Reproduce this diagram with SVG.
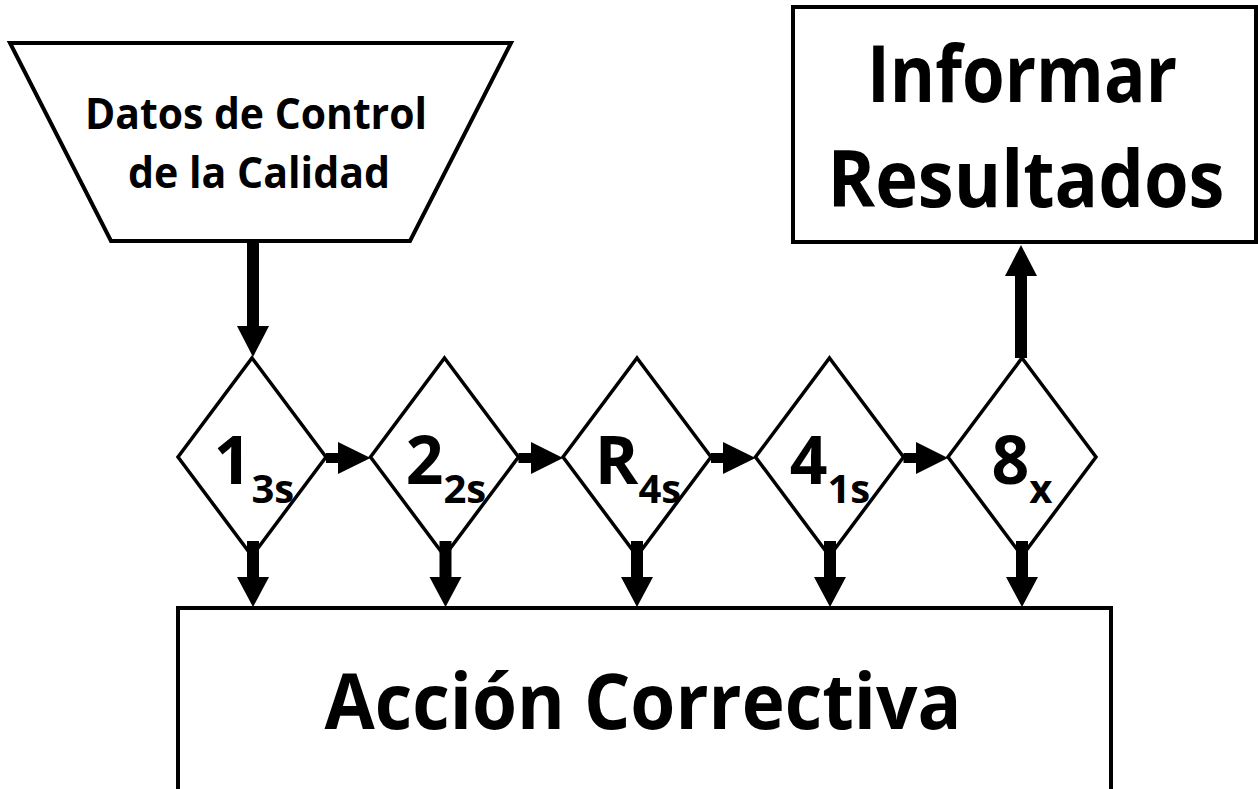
<svg xmlns="http://www.w3.org/2000/svg" width="1258" height="789" viewBox="0 0 1258 789">
<style>
.shape{fill:#fff;stroke:#000;stroke-width:4}
.dia{fill:#fff;stroke:#000;stroke-width:3.5}
.lbl{font-family:"Open Sans","Liberation Sans",sans-serif;font-weight:bold;fill:#000}
.stem{stroke:#000;fill:none}
.head{fill:#000;stroke:none}
</style>
<rect width="1258" height="789" fill="#fff"/>
<g id="datos">
<polygon class="shape" points="10,43 511,43 410,241 111,241"/>
<text class="lbl" x="256" y="129" font-size="43" text-anchor="middle" textLength="342" lengthAdjust="spacingAndGlyphs">Datos de Control</text>
<text class="lbl" x="259" y="188" font-size="43" text-anchor="middle" textLength="262" lengthAdjust="spacingAndGlyphs">de la Calidad</text>
</g>
<g id="informar">
<rect class="shape" x="793" y="7" width="463" height="235"/>
<text class="lbl" x="1022" y="102" font-size="79" text-anchor="middle" textLength="310" lengthAdjust="spacingAndGlyphs">Informar</text>
<text class="lbl" x="1026" y="207" font-size="79" text-anchor="middle" textLength="397" lengthAdjust="spacingAndGlyphs">Resultados</text>
</g>
<g id="accion">
<rect class="shape" x="178" y="608" width="933" height="220"/>
<text class="lbl" x="643" y="729" font-size="77" text-anchor="middle" textLength="637" lengthAdjust="spacingAndGlyphs">Acción Correctiva</text>
</g>
<g id="r13s">
<polygon class="dia" points="252,358 326,457 252,556 178,457"/>
<text class="lbl" x="254" y="484" font-size="66" text-anchor="middle">1<tspan font-size="40" dy="19">3s</tspan></text>
</g>
<g id="r22s">
<polygon class="dia" points="444.5,358 518.5,457 444.5,556 370.5,457"/>
<text class="lbl" x="446" y="484" font-size="66" text-anchor="middle">2<tspan font-size="40" dy="19">2s</tspan></text>
</g>
<g id="rR4s">
<polygon class="dia" points="637,358 711,457 637,556 563,457"/>
<text class="lbl" x="638" y="484" font-size="66" text-anchor="middle">R<tspan font-size="40" dy="19">4s</tspan></text>
</g>
<g id="r41s">
<polygon class="dia" points="829.5,358 903.5,457 829.5,556 755.5,457"/>
<text class="lbl" x="830" y="484" font-size="66" text-anchor="middle">4<tspan font-size="40" dy="19">1s</tspan></text>
</g>
<g id="r8x">
<polygon class="dia" points="1022,358 1096,457 1022,556 948,457"/>
<text class="lbl" x="1022" y="484" font-size="66" text-anchor="middle">8<tspan font-size="40" dy="19">x</tspan></text>
</g>
<g id="connectors">
<!-- datos to 1_3s -->
<line class="stem" x1="253" y1="241" x2="253" y2="327" stroke-width="12"/>
<polygon class="head" points="237,326 269,326 253,357"/>
<!-- 8x to informar -->
<line class="stem" x1="1021" y1="358" x2="1021" y2="275" stroke-width="12"/>
<polygon class="head" points="1005,276 1037,276 1021,245"/>
<!-- horizontal -->
<line class="stem" x1="326" y1="458" x2="339" y2="458" stroke-width="10"/>
<polygon class="head" points="338,442 338,474 370.5,458"/>
<line class="stem" x1="518.5" y1="458" x2="532" y2="458" stroke-width="10"/>
<polygon class="head" points="531,442 531,474 563,458"/>
<line class="stem" x1="711" y1="458" x2="724" y2="458" stroke-width="10"/>
<polygon class="head" points="723,442 723,474 755.5,458"/>
<line class="stem" x1="903.5" y1="458" x2="917" y2="458" stroke-width="10"/>
<polygon class="head" points="916,442 916,474 948,458"/>
<!-- down -->
<line class="stem" x1="253" y1="541" x2="253" y2="578" stroke-width="12"/>
<polygon class="head" points="237,577 269,577 253,607"/>
<line class="stem" x1="445.5" y1="541" x2="445.5" y2="578" stroke-width="12"/>
<polygon class="head" points="429.5,577 461.5,577 445.5,607"/>
<line class="stem" x1="637" y1="541" x2="637" y2="578" stroke-width="12"/>
<polygon class="head" points="621,577 653,577 637,607"/>
<line class="stem" x1="830" y1="541" x2="830" y2="578" stroke-width="12"/>
<polygon class="head" points="814,577 846,577 830,607"/>
<line class="stem" x1="1022" y1="541" x2="1022" y2="578" stroke-width="12"/>
<polygon class="head" points="1006,577 1038,577 1022,607"/>
</g>
</svg>
